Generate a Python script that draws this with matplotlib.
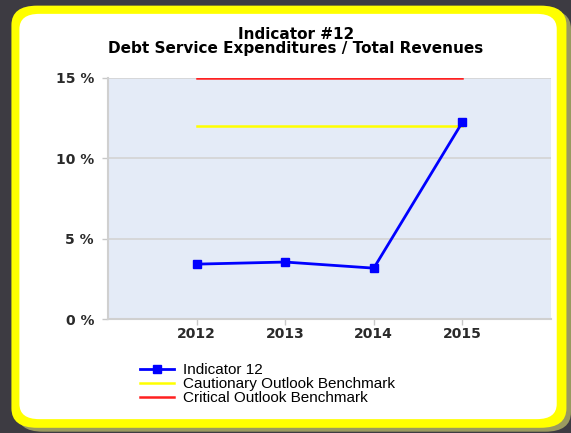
import matplotlib.pyplot as plt
from matplotlib.patches import FancyBboxPatch

years = [2012, 2013, 2014, 2015]
indicator = [3.42, 3.55, 3.17, 12.25]
cautionary = [12, 12, 12, 12]
critical = [15, 15, 15, 15]
yticks = [0, 5, 10, 15]

fig = plt.figure(figsize=(5.71, 4.33), dpi=100)
fig.patch.set_facecolor('#3d3b42')

# shadow + yellow frame + white card
fig.patches.append(FancyBboxPatch((0.030, 0.003), 0.970, 0.975, boxstyle='round,pad=0,rounding_size=0.045',
                                  transform=fig.transFigure, facecolor='#9a9a60', edgecolor='none', zorder=-3))
fig.patches.append(FancyBboxPatch((0.020, 0.012), 0.972, 0.975, boxstyle='round,pad=0,rounding_size=0.045',
                                  transform=fig.transFigure, facecolor='#ffff00', edgecolor='none', zorder=-2))
fig.patches.append(FancyBboxPatch((0.034, 0.032), 0.941, 0.936, boxstyle='round,pad=0,rounding_size=0.035',
                                  transform=fig.transFigure, facecolor='white', edgecolor='none', zorder=-1))

ax = fig.add_axes([0.189, 0.263, 0.776, 0.557])
ax.set_facecolor('#e4ebf7')

ax.plot(years, critical, color='#ff2020', lw=1.8, zorder=3, label='Critical Outlook Benchmark')
ax.plot(years, cautionary, color='#ffff00', lw=1.8, zorder=3, label='Cautionary Outlook Benchmark')
ax.plot(years, indicator, color='#0000ff', lw=2.0, marker='s', markersize=5.5, zorder=4, label='Indicator 12')

ax.set_xlim(2011, 2016)
ax.set_ylim(0, 15)
ax.set_xticks(years)
ax.set_xticklabels([str(y) for y in years], fontsize=10, fontweight='bold')
ax.set_yticks(yticks)
ax.set_yticklabels([f'{v} %' for v in yticks], fontsize=10, fontweight='bold')
ax.grid(axis='y', color='#d4d4d4', lw=1.2)
ax.set_axisbelow(True)
for s in ['top', 'right']:
    ax.spines[s].set_visible(False)
for s in ['left', 'bottom']:
    ax.spines[s].set_color('#d0d0d0')
    ax.spines[s].set_linewidth(1.5)
ax.tick_params(colors='#c8c8c8', labelcolor='#2a2a2a', length=4, width=1)
ax.tick_params(axis='x', pad=2)
ax.tick_params(axis='y', pad=6)

# two-line title
fig.text(0.518, 0.904, 'Indicator #12\nDebt Service Expenditures / Total Revenues', ha='center', va='center',
         fontsize=11, fontweight='bold', linespacing=0.85)

# legend, indicator first
handles, labels = ax.get_legend_handles_labels()
fig.legend(handles[::-1], labels[::-1],
           loc='upper left', bbox_to_anchor=(0.245, 0.161), frameon=False,
           prop={'family': 'Liberation Sans', 'size': 11}, handlelength=2.2,
           labelspacing=0.0, handletextpad=0.6, borderpad=0, borderaxespad=0)

fig.savefig('out.png', dpi=100, facecolor=fig.get_facecolor())
